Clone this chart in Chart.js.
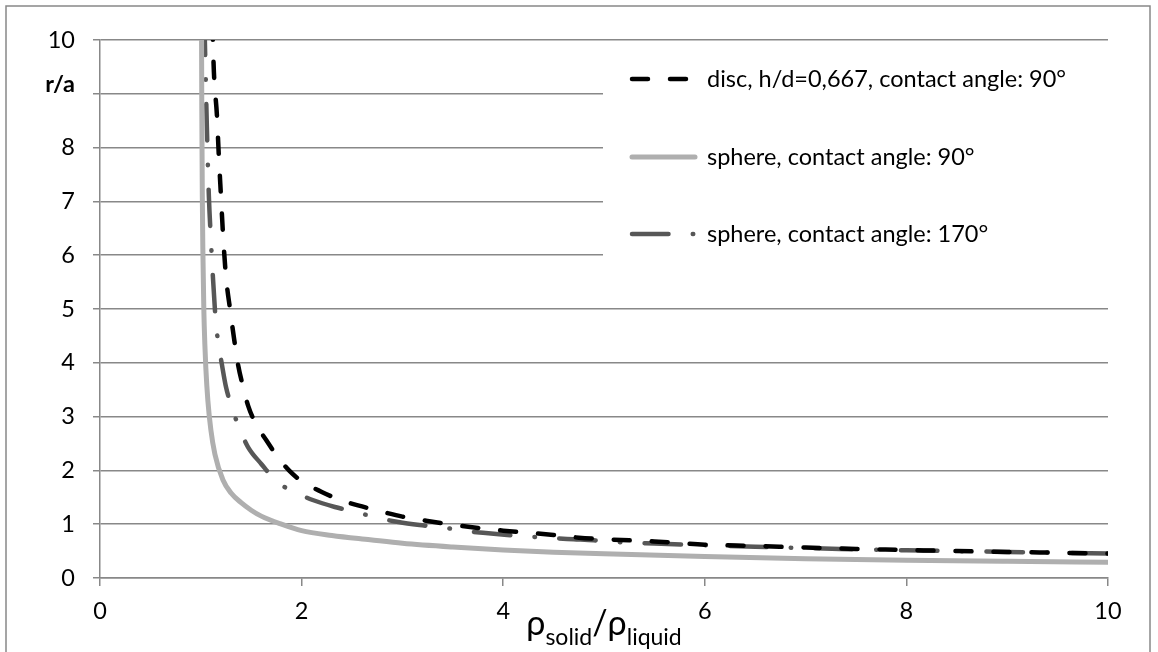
<!DOCTYPE html>
<html>
<head>
<meta charset="utf-8">
<script src="https://cdn.jsdelivr.net/npm/chart.js@4/dist/chart.umd.min.js"></script>
<style>
  html, body { margin: 0; padding: 0; background: #fff; }
  #wrap { width: 1158px; height: 652px; position: relative; }
</style>
</head>
<body>
<div id="wrap"><canvas id="c" width="1158" height="652"></canvas></div>
<script>
// ---- data ----
const seriesLabels = [
  "disc, h/d=0,667, contact angle: 90°",
  "sphere, contact angle: 90°",
  "sphere, contact angle: 170°"
];

const discX = [1.115, 1.13, 1.16, 1.18, 1.20, 1.22, 1.25, 1.29, 1.33, 1.37, 1.42, 1.47, 1.55, 1.65, 1.75, 1.88, 2.0, 2.2, 2.4, 2.6, 2.8, 3.0, 3.25, 3.5, 3.75, 4.0, 4.25, 4.5, 4.75, 5.0, 5.5, 6.0, 6.5, 7.0, 7.5, 8.0, 8.5, 9.0, 9.5, 10.0];
const discY = [10.3, 9.4, 8.6, 7.8, 7.1, 6.4, 5.6, 5.0, 4.45, 3.96, 3.55, 3.2, 2.85, 2.56, 2.28, 1.99, 1.80, 1.60, 1.44, 1.33, 1.23, 1.14, 1.06, 0.99, 0.93, 0.88, 0.84, 0.80, 0.75, 0.72, 0.68, 0.62, 0.595, 0.565, 0.54, 0.52, 0.50, 0.485, 0.47, 0.455];

const sphere90X = [1.006, 1.008, 1.01, 1.015, 1.02, 1.03, 1.04, 1.05, 1.07, 1.1, 1.14, 1.22, 1.3, 1.4, 1.5, 1.6, 1.8, 2.0, 2.3, 2.68, 3.0, 3.5, 4.0, 4.5, 5.0, 6.0, 7.0, 8.0, 9.0, 10.0];
const sphere90Y = [11.2, 9.7, 8.7, 7.1, 6.15, 5.0, 4.35, 3.9, 3.3, 2.75, 2.3, 1.82, 1.58, 1.40, 1.26, 1.15, 1.0, 0.88, 0.79, 0.71, 0.645, 0.575, 0.52, 0.48, 0.45, 0.40, 0.36, 0.33, 0.31, 0.295];

const sphere170X = [1.035, 1.045, 1.06, 1.08, 1.10, 1.12, 1.15, 1.18, 1.21, 1.25, 1.31, 1.39, 1.47, 1.6, 1.76, 1.93, 2.11, 2.33, 2.55, 2.75, 2.96, 3.17, 3.4, 3.6, 3.8, 4.04, 4.25, 4.5, 4.7, 4.9, 5.1, 5.5, 6.0, 6.5, 7.0, 7.5, 8.0, 8.5, 9.0, 9.5, 10.0];
const sphere170Y = [10.4, 9.6, 8.4, 7.1, 6.3, 5.6, 4.74, 4.3, 3.96, 3.55, 3.16, 2.75, 2.43, 2.12, 1.78, 1.6, 1.45, 1.32, 1.22, 1.12, 1.04, 0.985, 0.94, 0.88, 0.84, 0.80, 0.77, 0.74, 0.72, 0.70, 0.67, 0.64, 0.61, 0.58, 0.555, 0.535, 0.515, 0.50, 0.485, 0.47, 0.455];

const xTicks = [0, 2, 4, 6, 8, 10];
const yTicks = [0, 1, 2, 3, 4, 5, 6, 7, 8, 9, 10];
const yTitle = "r/a";
const xTitleParts = [["ρ", "main"], ["solid", "sub"], ["/", "main"], ["ρ", "main"], ["liquid", "sub"]];

const FONT = "Lato, 'Noto Sans', sans-serif";
const FS = 23.5;
const GRID = "#888888";

function pts(xs, ys) { return xs.map((x, i) => ({ x: x, y: ys[i] })); }

const datasets = [
  { label: seriesLabels[0], data: pts(discX, discY), borderColor: "#000000", borderWidth: 4.5,
    borderDash: [16, 22], borderCapStyle: "round" },
  { label: seriesLabels[1], data: pts(sphere90X, sphere90Y), borderColor: "#afafaf", borderWidth: 5,
    borderDash: [], borderCapStyle: "round" },
  { label: seriesLabels[2], data: pts(sphere170X, sphere170Y), borderColor: "#575757", borderWidth: 4.5,
    borderDash: [36.5, 24.25, 0.5, 24.25], borderCapStyle: "round" }
];
datasets.forEach(d => { d.showLine = true; d.pointRadius = 0; d.fill = false; d.cubicInterpolationMode = "monotone"; d.borderJoinStyle = "round"; });

const decor = {
  id: "decor",
  beforeDraw(chart) {
    const ctx = chart.ctx;
    ctx.save();
    ctx.fillStyle = "#fff";
    ctx.fillRect(0, 0, chart.width, chart.height);
    ctx.strokeStyle = GRID;
    ctx.lineWidth = 1.5;
    ctx.strokeRect(6, 6, 1144, 700);
    ctx.restore();
  },
  afterDraw(chart) {
    const ctx = chart.ctx;
    const ca = chart.chartArea;
    ctx.save();
    // legend box
    ctx.fillStyle = "#fff";
    ctx.fillRect(603, 48, 508, 225);
    const rows = [79, 157, 234];
    const segs = [[632, 688], [632, 695], [632, 694]];
    chart.data.datasets.forEach((ds, i) => {
      ctx.save();
      ctx.strokeStyle = ds.borderColor;
      ctx.lineWidth = ds.borderWidth;
      ctx.lineCap = "round";
      ctx.setLineDash(ds.borderDash || []);
      ctx.beginPath();
      ctx.moveTo(segs[i][0], rows[i]);
      ctx.lineTo(segs[i][1], rows[i]);
      ctx.stroke();
      ctx.restore();
      ctx.fillStyle = "#000";
      ctx.font = FS + "px " + FONT;
      ctx.textAlign = "left";
      ctx.textBaseline = "middle";
      ctx.fillText(ds.label, 707, rows[i]);
    });
    // y title
    ctx.fillStyle = "#000";
    ctx.font = "bold " + FS + "px " + FONT;
    ctx.textAlign = "right";
    ctx.textBaseline = "middle";
    ctx.fillText(yTitle, 75, 84);
    // x title with subscripts
    const fonts = { main: "34px " + FONT, sub: "23px " + FONT };
    const base = { main: 635, sub: 645 };
    let total = 0;
    const widths = xTitleParts.map(p => { ctx.font = fonts[p[1]]; const w = ctx.measureText(p[0]).width; total += w; return w; });
    let x = (ca.left + ca.right) / 2 - total / 2;
    ctx.textAlign = "left";
    ctx.textBaseline = "alphabetic";
    xTitleParts.forEach((p, i) => {
      ctx.font = fonts[p[1]];
      ctx.fillText(p[0], x, base[p[1]]);
      x += widths[i];
    });
    ctx.restore();
  }
};

new Chart(document.getElementById("c"), {
  type: "scatter",
  data: { datasets: datasets },
  options: {
    responsive: false,
    animation: false,
    layout: { padding: { left: 0, right: 50, top: 40, bottom: 0 } },
    plugins: { legend: { display: false }, tooltip: { enabled: false } },
    scales: {
      x: {
        type: "linear", min: 0, max: 10,
        afterFit(s) { s.height = 74; },
        afterBuildTicks(s) { s.ticks = xTicks.map(v => ({ value: v })); },
        grid: { drawOnChartArea: false, drawTicks: true, tickLength: 8, color: GRID, lineWidth: 1.5 },
        border: { display: true, color: GRID, width: 1.5 },
        ticks: { color: "#000", font: { family: FONT, size: FS }, padding: 11, maxRotation: 0 }
      },
      y: {
        type: "linear", min: 0, max: 10,
        afterFit(s) { s.width = 100; },
        afterBuildTicks(s) { s.ticks = yTicks.map(v => ({ value: v })); },
        grid: { drawOnChartArea: true, drawTicks: true, tickLength: 7, color: GRID, lineWidth: 1.5 },
        border: { display: true, color: GRID, width: 1.5 },
        ticks: { color: "#000", font: { family: FONT, size: FS }, padding: 18,
          callback: v => (v === 9 ? "" : String(v)) }
      }
    }
  },
  plugins: [decor]
});
</script>
</body>
</html>
